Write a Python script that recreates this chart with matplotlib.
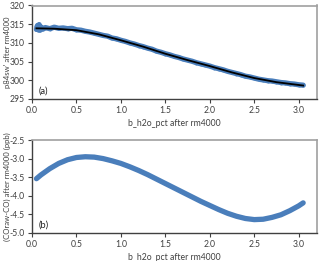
import matplotlib
matplotlib.use("Agg")
import matplotlib.pyplot as plt

plt.rcParams['font.family'] = ['Lato', 'DejaVu Sans']

# Panel (a): measured points (blue) and fit (black)
xa_pts = [0.05, 0.06, 0.07, 0.08, 0.09, 0.10, 0.12, 0.15, 0.20, 0.25, 0.30, 0.35, 0.40,
          0.45, 0.50, 0.55, 0.60, 0.65, 0.70, 0.75, 0.80, 0.85, 0.90, 0.95, 1.00,
          1.05, 1.10, 1.15, 1.20, 1.25, 1.30, 1.35, 1.40, 1.45, 1.50, 1.55, 1.60,
          1.65, 1.70, 1.75, 1.80, 1.85, 1.90, 1.95, 2.00, 2.05, 2.10, 2.15, 2.20,
          2.25, 2.30, 2.35, 2.40, 2.45, 2.50, 2.55, 2.60, 2.65, 2.70, 2.75, 2.80,
          2.85, 2.90, 2.95, 3.00, 3.05]
ya_pts = [313.6, 314.6, 313.5, 314.9, 313.4, 314.3, 313.7, 314.1, 313.8, 314.2, 313.9, 314.0, 313.8,
          313.9, 313.5, 313.4, 313.1, 312.9, 312.6, 312.3, 312.0, 311.8, 311.3, 311.1, 310.7,
          310.4, 310.0, 309.7, 309.3, 309.0, 308.6, 308.3, 307.8, 307.5, 307.1, 306.8, 306.4,
          306.1, 305.7, 305.4, 305.1, 304.7, 304.4, 304.1, 303.8, 303.4, 303.1, 302.8, 302.4,
          302.1, 301.8, 301.5, 301.1, 300.9, 300.6, 300.3, 300.1, 299.9, 299.8, 299.6, 299.4,
          299.3, 299.1, 299.0, 298.8, 298.7]
xa_fit = [0.05, 0.25, 0.50, 0.75, 1.00, 1.25, 1.50, 1.75, 2.00, 2.25, 2.50, 2.75, 3.05]
ya_fit = [313.9, 313.8, 313.4, 312.3, 310.7, 309.0, 307.1, 305.4, 303.8, 302.1, 300.6, 299.5, 298.6]

# Panel (b)
xb = [0.05, 0.10, 0.20, 0.30, 0.40, 0.50, 0.60, 0.70, 0.80, 0.90, 1.00, 1.10, 1.20,
      1.30, 1.40, 1.50, 1.60, 1.70, 1.80, 1.90, 2.00, 2.10, 2.20, 2.30, 2.40, 2.50,
      2.60, 2.70, 2.80, 2.90, 3.00, 3.05]
yb = [-3.54, -3.44, -3.27, -3.13, -3.03, -2.97, -2.95, -2.96, -3.00, -3.06, -3.13, -3.22, -3.32,
      -3.43, -3.55, -3.67, -3.79, -3.91, -4.03, -4.15, -4.26, -4.37, -4.47, -4.55, -4.61, -4.64,
      -4.63, -4.58, -4.51, -4.40, -4.27, -4.19]

xticks = [0.0, 0.5, 1.0, 1.5, 2.0, 2.5, 3.0]
xticklabels = ["0.0", "0.5", "1.0", "1.5", "2.0", "2.5", "3.0"]
ya_ticks = [295, 300, 305, 310, 315, 320]
yb_ticks = [-5.0, -4.5, -4.0, -3.5, -3.0, -2.5]
yb_ticklabels = ["-5.0", "-4.5", "-4.0", "-3.5", "-3.0", "-2.5"]

W, H = 320, 261
fig = plt.figure(figsize=(W / 100, H / 100), dpi=100)


def ax_rect(l, t, r, b):
    return [l / W, 1 - b / H, (r - l) / W, (b - t) / H]


ax1 = fig.add_axes(ax_rect(32, 5.5, 316.5, 99))
ax2 = fig.add_axes(ax_rect(32, 140, 316.5, 233))

blue = '#4a7ebb'
tc = '#404040'
fs = 6.2
fsy = 5.6


def style(ax):
    ax.set_xlim(0, 3.2)
    ax.set_xticks(xticks)
    ax.set_xticklabels(xticklabels)
    for s in ['top', 'right']:
        ax.spines[s].set_color('#a0a0a0')
        ax.spines[s].set_linewidth(1.2)
    for s in ['left', 'bottom']:
        ax.spines[s].set_color('#404040')
        ax.spines[s].set_linewidth(1.0)
    ax.tick_params(direction='out', length=3, width=0.8, color='#404040',
                   labelsize=fs, labelcolor=tc, pad=2)
    ax.set_xlabel("b_h2o_pct after rm4000", fontsize=fs, color=tc, labelpad=3)


ax1.plot(xa_pts, ya_pts, color=blue, lw=3.8, solid_capstyle='round', zorder=2)
ax1.scatter(xa_pts, ya_pts, s=8, color=blue, zorder=2, linewidths=0)
ax1.plot(xa_fit, ya_fit, color='black', lw=1.3, zorder=3)
ax1.set_ylim(295, 320)
ax1.set_yticks(ya_ticks)
style(ax1)
fig.text(7.5 / W, 1 - 52 / H, "p84sw' after rm4000", fontsize=fsy, color=tc,
         rotation=90, ha='center', va='center')
ax1.text(0.07, 296.5, "(a)", fontsize=6.6, color='#202020')

ax2.plot(xb, yb, color=blue, lw=3.8, solid_capstyle='round', solid_joinstyle='round')
ax2.set_ylim(-5.0, -2.5)
ax2.set_yticks(yb_ticks)
ax2.set_yticklabels(yb_ticklabels)
style(ax2)
fig.text(7.5 / W, 1 - 187 / H, "(COraw-CO) after rm4000 (ppb)", fontsize=fsy, color=tc,
         rotation=90, ha='center', va='center')
ax2.text(0.07, -4.85, "(b)", fontsize=6.6, color='#202020')

fig.savefig("out.png", dpi=100)
